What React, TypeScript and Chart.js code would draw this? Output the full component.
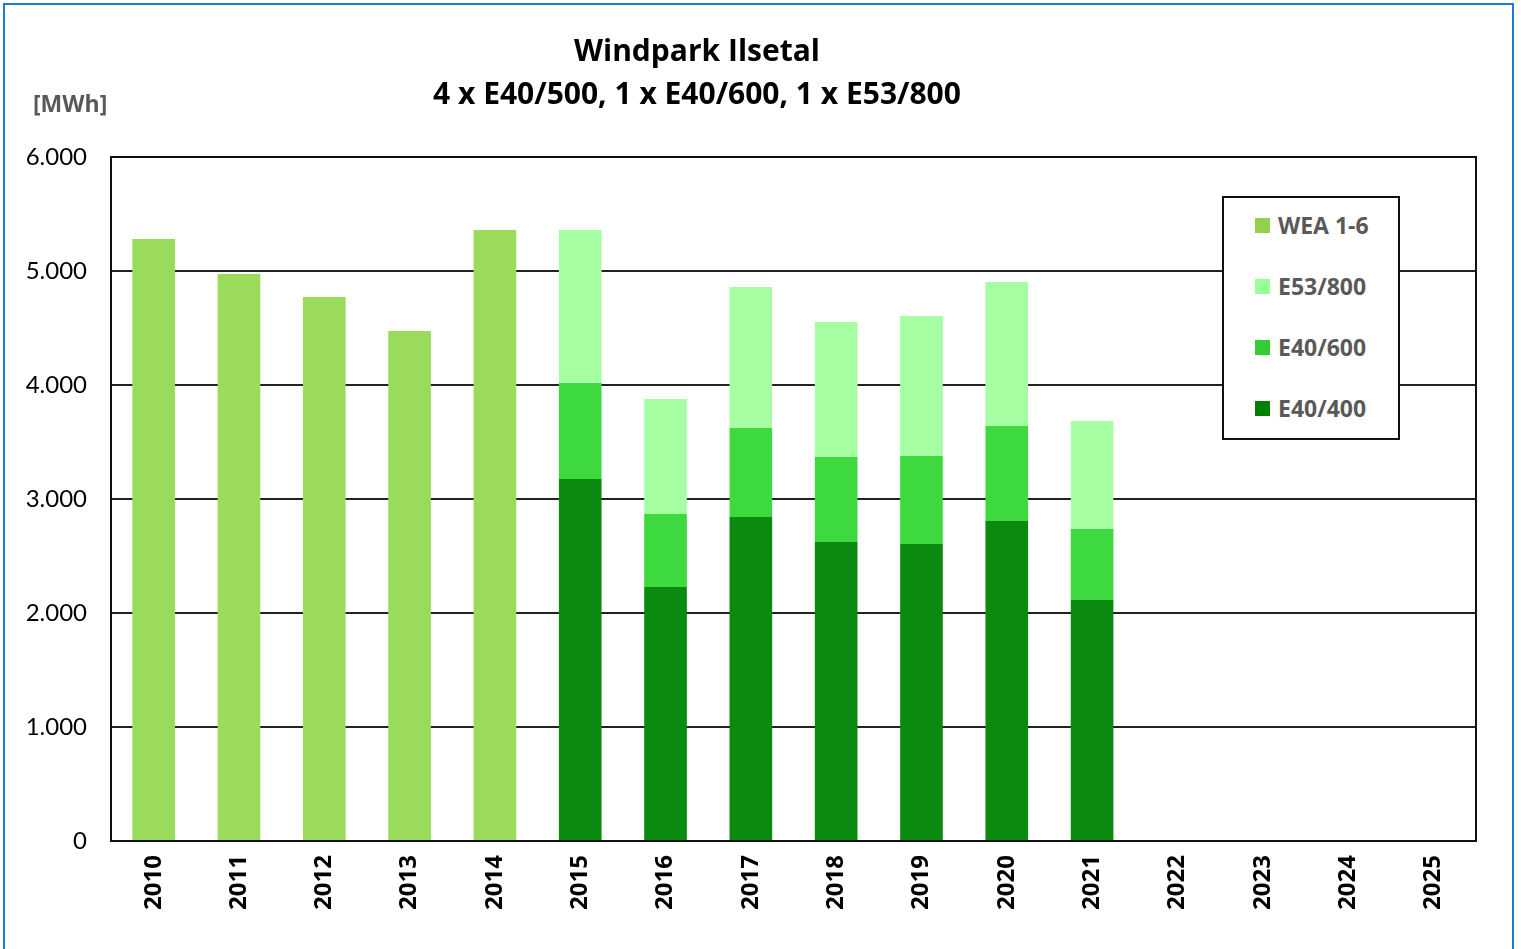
import React, { useEffect, useRef } from 'react';
import { Chart, registerables } from 'chart.js';

Chart.register(...registerables);

const years = ['2010', '2011', '2012', '2013', '2014', '2015', '2016', '2017', '2018', '2019', '2020', '2021', '2022', '2023', '2024', '2025'];
const wea16 = [5281, 4974, 4772, 4474, 5360, null, null, null, null, null, null, null, null, null, null, null];
const e40_400 = [null, null, null, null, null, 3175, 2228, 2842, 2623, 2605, 2807, 2114, null, null, null, null];
const e40_600 = [null, null, null, null, null, 843, 640, 781, 745, 772, 833, 623, null, null, null, null];
const e53_800 = [null, null, null, null, null, 1342, 1009, 1237, 1185, 1228, 1264, 947, null, null, null, null];
const yMax = 6000;
const yStep = 1000;

const titleLines = ['Windpark Ilsetal', '4 x E40/500, 1 x E40/600, 1 x E53/800'];
const unitLabel = '[MWh]';

const colWEA = '#9BDB5B';
const colE53 = '#A6FFA2';
const colE600 = '#3ED93E';
const colE400 = '#0A8A0E';

const legendItems = [
  { label: 'WEA 1-6', color: '#92D050' },
  { label: 'E53/800', color: '#99FF99' },
  { label: 'E40/600', color: '#33CC33' },
  { label: 'E40/400', color: '#008000' },
];

const FONT = 'Lato, "Open Sans", sans-serif';
const BOLD = '"Open Sans", Lato, sans-serif';

function fmt(v: number): string {
  if (v === 0) return '0';
  const s = String(Math.round(v));
  return s.replace(/\B(?=(\d{3})+(?!\d))/g, '.');
}

const framePlugin = {
  id: 'frame',
  afterDatasetsDraw(chart: any) {
    const { ctx, chartArea } = chart;
    ctx.save();
    ctx.strokeStyle = '#111';
    ctx.lineWidth = 2;
    ctx.strokeRect(chartArea.left, chartArea.top, chartArea.right - chartArea.left, chartArea.bottom - chartArea.top);
    ctx.restore();
  },
};

export default function App() {
  const ref = useRef<HTMLCanvasElement | null>(null);

  useEffect(() => {
    if (!ref.current) return;
    const chart = new Chart(ref.current, {
      type: 'bar',
      data: {
        labels: years,
        datasets: [
          { label: 'E40/400', data: e40_400 as any, backgroundColor: colE400 },
          { label: 'E40/600', data: e40_600 as any, backgroundColor: colE600 },
          { label: 'E53/800', data: e53_800 as any, backgroundColor: colE53 },
          { label: 'WEA 1-6', data: wea16 as any, backgroundColor: colWEA },
        ],
      },
      options: {
        responsive: false,
        animation: false,
        layout: { padding: { top: 157, right: 45, bottom: 0, left: 0 } },
        datasets: { bar: { barPercentage: 0.5, categoryPercentage: 1.0 } },
        plugins: {
          legend: { display: false },
          title: { display: false },
          tooltip: { enabled: false },
        },
        scales: {
          x: {
            stacked: true,
            grid: { display: false },
            border: { display: false },
            ticks: {
              color: '#000',
              font: { family: BOLD, size: 24, weight: 'bold' },
              minRotation: 90,
              maxRotation: 90,
              padding: 6,
            },
            afterFit(scale: any) {
              scale.height = 949 - 841;
            },
          },
          y: {
            stacked: true,
            min: 0,
            max: yMax,
            grid: { color: '#222', lineWidth: 2, drawTicks: false },
            border: { display: false },
            ticks: {
              stepSize: yStep,
              color: '#000',
              font: { family: FONT, size: 24 },
              padding: 24,
              callback: (v: any) => fmt(Number(v)),
            },
            afterFit(scale: any) {
              scale.width = 111;
            },
          },
        },
      },
      plugins: [framePlugin],
    } as any);
    return () => chart.destroy();
  }, []);

  return (
    <div style={{ position: 'fixed', left: 0, top: 0, width: 1521, height: 949, background: '#fff', overflow: 'hidden' }}>
      <div style={{ position: 'absolute', left: 3, top: 3, width: 1511, height: 980, border: '2px solid #1F7BD0', boxSizing: 'border-box' }} />
      <canvas ref={ref} width={1521} height={949} style={{ position: 'absolute', left: 0, top: 0, display: 'block' }} />
      <div style={{ position: 'absolute', left: 297, width: 800, top: 28, textAlign: 'center', fontFamily: BOLD, fontWeight: 'bold', fontSize: 30, lineHeight: '43px', color: '#000' }}>
        <div>{titleLines[0]}</div>
        <div>{titleLines[1]}</div>
      </div>
      <div style={{ position: 'absolute', left: 33, top: 88, fontFamily: BOLD, fontWeight: 'bold', fontSize: 23, lineHeight: '30px', color: '#595959' }}>{unitLabel}</div>
      <div style={{ position: 'absolute', left: 1222, top: 196, width: 178, height: 244, border: '2px solid #111', boxSizing: 'border-box', background: '#fff' }}>
        {legendItems.map((it, i) => (
          <div key={it.label} style={{ position: 'absolute', left: 31, top: 12 + i * 61, height: 30, display: 'flex', alignItems: 'center' }}>
            <div style={{ width: 15, height: 15, background: it.color, marginRight: 8 }} />
            <span style={{ fontFamily: BOLD, fontWeight: 'bold', fontSize: 23, color: '#595959' }}>{it.label}</span>
          </div>
        ))}
      </div>
    </div>
  );
}
